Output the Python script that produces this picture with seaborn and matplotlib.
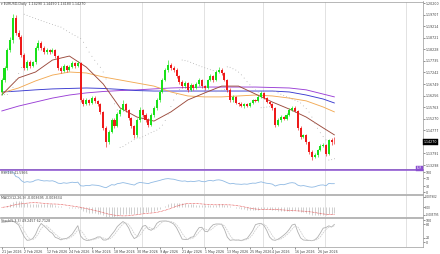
import numpy as np
import pandas as pd
import matplotlib
matplotlib.use("Agg")
import matplotlib.pyplot as plt
import matplotlib.transforms as mtrans
import seaborn as sns

# ---------------- data ----------------
opens = [1.1641, 1.1692, 1.1743, 1.1820, 1.1862, 1.1956, 1.1892, 1.1875, 1.1798, 1.1743,
         1.1769, 1.1752, 1.1769, 1.1828, 1.1850, 1.1828, 1.1811, 1.1820, 1.1811, 1.1820,
         1.1794, 1.1743, 1.1731, 1.1752, 1.1735, 1.1748, 1.1765, 1.1752, 1.1765, 1.1607,
         1.1590, 1.1607, 1.1594, 1.1615, 1.1603, 1.1590, 1.1556, 1.1488, 1.1428, 1.1471,
         1.1522, 1.1496, 1.1547, 1.1564, 1.1590, 1.1564, 1.1530, 1.1496, 1.1458, 1.1522,
         1.1564, 1.1543, 1.1522, 1.1501, 1.1543, 1.1573, 1.1607, 1.1641, 1.1692, 1.1735,
         1.1756, 1.1743, 1.1735, 1.1709, 1.1684, 1.1667, 1.1679, 1.1650, 1.1671, 1.1658,
         1.1675, 1.1692, 1.1667, 1.1658, 1.1692, 1.1709, 1.1692, 1.1726, 1.1735, 1.1722,
         1.1692, 1.1650, 1.1607, 1.1620, 1.1594, 1.1590, 1.1581, 1.1590, 1.1581, 1.1594,
         1.1607, 1.1603, 1.1620, 1.1637, 1.1615, 1.1598, 1.1590, 1.1573, 1.1501, 1.1522,
         1.1535, 1.1526, 1.1543, 1.1564, 1.1573, 1.1560, 1.1488, 1.1449, 1.1458, 1.1428,
         1.1386, 1.1364, 1.1373, 1.1394, 1.1411, 1.1415, 1.1377, 1.1438, 1.1429]
closes = [1.1692, 1.1743, 1.1820, 1.1862, 1.1956, 1.1892, 1.1875, 1.1798, 1.1743, 1.1769,
          1.1752, 1.1769, 1.1828, 1.1850, 1.1828, 1.1811, 1.1820, 1.1811, 1.1820, 1.1794,
          1.1743, 1.1731, 1.1752, 1.1735, 1.1748, 1.1765, 1.1752, 1.1765, 1.1607, 1.1590,
          1.1607, 1.1594, 1.1615, 1.1603, 1.1590, 1.1556, 1.1488, 1.1428, 1.1471, 1.1522,
          1.1496, 1.1547, 1.1564, 1.1590, 1.1564, 1.1530, 1.1496, 1.1458, 1.1522, 1.1564,
          1.1543, 1.1522, 1.1501, 1.1543, 1.1573, 1.1607, 1.1641, 1.1692, 1.1735, 1.1756,
          1.1743, 1.1735, 1.1709, 1.1684, 1.1667, 1.1679, 1.1650, 1.1671, 1.1658, 1.1675,
          1.1692, 1.1667, 1.1658, 1.1692, 1.1709, 1.1692, 1.1726, 1.1735, 1.1722, 1.1692,
          1.1650, 1.1607, 1.1620, 1.1594, 1.1590, 1.1581, 1.1590, 1.1581, 1.1594, 1.1607,
          1.1603, 1.1620, 1.1637, 1.1615, 1.1598, 1.1590, 1.1573, 1.1501, 1.1522, 1.1535,
          1.1526, 1.1543, 1.1564, 1.1573, 1.1560, 1.1488, 1.1449, 1.1458, 1.1428, 1.1386,
          1.1364, 1.1373, 1.1394, 1.1411, 1.1415, 1.1377, 1.1438, 1.1426, 1.1427]
highs = [1.1700, 1.1752, 1.1830, 1.1875, 1.1972, 1.1968, 1.1905, 1.1885, 1.1806, 1.1778,
         1.1776, 1.1775, 1.1836, 1.1862, 1.1858, 1.1835, 1.1828, 1.1826, 1.1830, 1.1826,
         1.1800, 1.1750, 1.1760, 1.1758, 1.1755, 1.1772, 1.1770, 1.1775, 1.1770, 1.1615,
         1.1616, 1.1612, 1.1624, 1.1622, 1.1608, 1.1596, 1.1562, 1.1495, 1.1478, 1.1530,
         1.1528, 1.1555, 1.1572, 1.1605, 1.1596, 1.1570, 1.1536, 1.1502, 1.1528, 1.1575,
         1.1570, 1.1550, 1.1528, 1.1550, 1.1580, 1.1615, 1.1648, 1.1700, 1.1745, 1.1777,
         1.1765, 1.1750, 1.1742, 1.1715, 1.1692, 1.1686, 1.1685, 1.1678, 1.1676, 1.1682,
         1.1700, 1.1698, 1.1672, 1.1698, 1.1716, 1.1715, 1.1734, 1.1748, 1.1742, 1.1728,
         1.1698, 1.1656, 1.1628, 1.1625, 1.1600, 1.1597, 1.1596, 1.1595, 1.1600, 1.1613,
         1.1612, 1.1626, 1.1645, 1.1642, 1.1620, 1.1604, 1.1596, 1.1578, 1.1528, 1.1542,
         1.1540, 1.1550, 1.1572, 1.1582, 1.1580, 1.1566, 1.1494, 1.1464, 1.1463, 1.1433,
         1.1392, 1.1380, 1.1400, 1.1418, 1.1422, 1.1420, 1.1442, 1.1445, 1.1449]
lows = [1.1630, 1.1685, 1.1735, 1.1810, 1.1850, 1.1885, 1.1865, 1.1790, 1.1735, 1.1736,
        1.1744, 1.1746, 1.1762, 1.1820, 1.1820, 1.1803, 1.1804, 1.1802, 1.1805, 1.1786,
        1.1736, 1.1722, 1.1725, 1.1728, 1.1729, 1.1742, 1.1745, 1.1746, 1.1598, 1.1582,
        1.1584, 1.1586, 1.1588, 1.1596, 1.1582, 1.1548, 1.1480, 1.1405, 1.1420, 1.1465,
        1.1488, 1.1490, 1.1540, 1.1558, 1.1556, 1.1522, 1.1488, 1.1445, 1.1450, 1.1515,
        1.1536, 1.1514, 1.1490, 1.1494, 1.1536, 1.1566, 1.1600, 1.1635, 1.1686, 1.1728,
        1.1736, 1.1728, 1.1700, 1.1675, 1.1660, 1.1660, 1.1642, 1.1645, 1.1650, 1.1652,
        1.1668, 1.1660, 1.1650, 1.1652, 1.1686, 1.1685, 1.1686, 1.1720, 1.1715, 1.1686,
        1.1642, 1.1598, 1.1600, 1.1588, 1.1582, 1.1575, 1.1574, 1.1575, 1.1577, 1.1588,
        1.1597, 1.1598, 1.1614, 1.1610, 1.1592, 1.1584, 1.1566, 1.1492, 1.1494, 1.1515,
        1.1520, 1.1520, 1.1538, 1.1558, 1.1554, 1.1480, 1.1440, 1.1443, 1.1420, 1.1378,
        1.1351, 1.1358, 1.1366, 1.1388, 1.1405, 1.1370, 1.1372, 1.1415, 1.1418]

# moving averages sampled at bar positions
ma_bars = [0, 6, 12, 18, 24, 30, 36, 42, 48, 54, 60, 66, 72, 78, 84, 90, 96, 102, 108, 114, 118]
ma_brown = [1.1628, 1.1701, 1.1726, 1.1777, 1.1794, 1.1747, 1.1675, 1.1573, 1.1534, 1.1517,
            1.1556, 1.1607, 1.1637, 1.1666, 1.1666, 1.1632, 1.1598, 1.1568, 1.1534, 1.1488, 1.1458]
ma_orange = [1.1637, 1.1658, 1.1688, 1.1713, 1.1726, 1.1722, 1.1705, 1.1692, 1.1679, 1.1666,
             1.1641, 1.1624, 1.1620, 1.1620, 1.1624, 1.1628, 1.1624, 1.1615, 1.1603, 1.1577, 1.1556]
ma_blue = [1.1641, 1.1645, 1.1650, 1.1654, 1.1656, 1.1658, 1.1656, 1.1652, 1.1647, 1.1645,
           1.1645, 1.1645, 1.1645, 1.1645, 1.1645, 1.1645, 1.1645, 1.1641, 1.1628, 1.1611, 1.1594]
ma_purple = [1.1560, 1.1581, 1.1598, 1.1615, 1.1628, 1.1637, 1.1643, 1.1647, 1.1650, 1.1654,
             1.1658, 1.1660, 1.1662, 1.1662, 1.1662, 1.1662, 1.1660, 1.1658, 1.1650, 1.1632, 1.1620]

price_ticks = [1.20200, 1.19707, 1.19214, 1.18721, 1.18228, 1.17735, 1.17242, 1.16749,
               1.16256, 1.15763, 1.15270, 1.14777, 1.14284, 1.13791, 1.13298]
price_tick_labels = ["1.20200", "1.19707", "1.19214", "1.18721", "1.18228", "1.17735",
                     "1.17242", "1.16749", "1.16256", "1.15763", "1.15270", "1.14777",
                     "", "1.13791", "1.13298"]
date_tick_bars = [0, 8, 16, 24, 32, 40, 48, 56, 64, 72, 80, 88, 96, 104, 112]
date_tick_labels = ["21 Jan 2026", "2 Feb 2026", "12 Feb 2026", "24 Feb 2026", "6 Mar 2026",
                    "18 Mar 2026", "30 Mar 2026", "9 Apr 2026", "21 Apr 2026", "1 May 2026",
                    "13 May 2026", "25 May 2026", "4 Jun 2026", "16 Jun 2026", "26 Jun 2026"]
month_sep_bars = [7.7, 27.7, 49.7, 71.7, 92.7, 114.7, 143.5]
header = "\u25be EURUSD,Daily  1.14290 1.14490 1.14180 1.14270"
line_tag = "EUR"

df = pd.DataFrame({"bar": np.arange(len(closes)), "open": opens, "high": highs,
                   "low": lows, "close": closes})

# ---------------- indicators ----------------
def psar(h, l, step=0.02, mx=0.2):
    n = len(h)
    out = np.zeros(n)
    up = True
    af = step
    ep = h[0]
    out[0] = l[0]
    for i in range(1, n):
        s = out[i - 1] + af * (ep - out[i - 1])
        if up:
            s = min(s, l[i - 1], l[max(i - 2, 0)])
            if l[i] < s:
                up, s, ep, af = False, ep, l[i], step
            elif h[i] > ep:
                ep, af = h[i], min(af + step, mx)
        else:
            s = max(s, h[i - 1], h[max(i - 2, 0)])
            if h[i] > s:
                up, s, ep, af = True, ep, h[i], step
            elif l[i] < ep:
                ep, af = l[i], min(af + step, mx)
        out[i] = s
    return out

df["sar"] = psar(df["high"].values, df["low"].values)
c = df["close"]
d = c.diff()
gain = d.clip(lower=0).ewm(alpha=1 / 14, adjust=True).mean()
loss = (-d.clip(upper=0)).ewm(alpha=1 / 14, adjust=True).mean()
df["rsi"] = 100 - 100 / (1 + gain / loss.replace(0, np.nan))
df["rsi"] = df["rsi"].fillna(100)
df.loc[0, "rsi"] = np.nan
df["macd"] = c.ewm(span=12, adjust=False).mean() - c.ewm(span=26, adjust=False).mean()
df["signal"] = df["macd"].rolling(9, min_periods=1).mean()
ll = df["low"].rolling(5, min_periods=1).min()
hh = df["high"].rolling(5, min_periods=1).max()
df["k"] = 100 * (c - ll).rolling(3, min_periods=1).sum() / (hh - ll).rolling(3, min_periods=1).sum()
df["dline"] = df["k"].rolling(3, min_periods=1).mean()

ma = pd.DataFrame({"bar": ma_bars, "brown": ma_brown, "orange": ma_orange,
                   "blue": ma_blue, "purple": ma_purple})

# ---------------- figure ----------------
sns.set_theme(style="white")
plt.rcParams["font.family"] = ["DejaVu Sans"]
W, H = 440, 254
fig = plt.figure(figsize=(W / 100, H / 100), dpi=100)
fig.patch.set_facecolor("white")

def rect(x0, y0, x1, y1):
    return [x0 / W, 1 - y1 / H, (x1 - x0) / W, (y1 - y0) / H]

XL = (-0.6, 149.4)
FS = 2.3
TXT = "#404040"
GRID = "#d6d6d6"
SPINE = "#9a9a9a"
PURPLE = "#8a4fd0"

ax = fig.add_axes(rect(0, 1.5, 423, 168.5))
axr = fig.add_axes(rect(0, 170, 423, 194))
axm = fig.add_axes(rect(0, 195, 423, 217))
axs = fig.add_axes(rect(0, 218, 423, 247))

for a in (ax, axr, axm, axs):
    a.set_xlim(*XL)
    a.set_facecolor("white")
    for sp in a.spines.values():
        sp.set_color(SPINE)
        sp.set_linewidth(0.5)
    a.spines["left"].set_visible(False)
    for xb in month_sep_bars:
        a.axvline(xb, color=GRID, lw=0.5, zorder=0)
    a.set_xlabel("")
    a.set_ylabel("")
    a.yaxis.tick_right()
    a.tick_params(axis="y", labelsize=FS, length=1.2, width=0.4, pad=0.8,
                  colors=TXT, labelcolor=TXT, right=True, left=False)
    a.tick_params(axis="x", bottom=False, labelbottom=False)

# ---- main price chart ----
ax.set_ylim(1.13150, 1.20264)
up = df["close"] >= df["open"]
col = np.where(up, "#19e019", "#ee1a1a")
ax.vlines(df["bar"], df["low"], df["high"], colors=col, lw=0.45, zorder=3)
body_lo = np.minimum(df["open"], df["close"])
body_h = np.maximum(np.abs(df["close"] - df["open"]), 0.00012)
ax.bar(df["bar"], body_h, bottom=body_lo, width=0.72, color=col, linewidth=0, zorder=4)

sns.lineplot(data=ma, x="bar", y="purple", ax=ax, color="#9a3fd6", lw=0.65, zorder=2)
sns.lineplot(data=ma, x="bar", y="blue", ax=ax, color="#3a3ad0", lw=0.65, zorder=2)
sns.lineplot(data=ma, x="bar", y="orange", ax=ax, color="#f2aa55", lw=0.65, zorder=2)
sns.lineplot(data=ma, x="bar", y="brown", ax=ax, color="#9b4a3c", lw=0.65, zorder=2)
sns.scatterplot(data=df, x="bar", y="sar", ax=ax, s=0.5, color="#b5b5b5",
                edgecolor="none", zorder=2)
ax.set_xlim(*XL)
ax.set_ylim(1.13150, 1.20264)
ax.set_xlabel("")
ax.set_ylabel("")
ax.set_yticks(price_ticks)
ax.set_yticklabels(price_tick_labels)
ax.text(0.003, 0.997, header, transform=ax.transAxes, fontsize=FS, color=TXT,
        ha="left", va="top")
bt = mtrans.blended_transform_factory(ax.transAxes, ax.transData)
ax.text(1.002, closes[-1], f"{closes[-1]:.5f}", transform=bt, fontsize=FS, color="white",
        ha="left", va="center", zorder=10,
        bbox=dict(boxstyle="square,pad=0.25", fc="black", ec="black", lw=0.3))

# ---- RSI ----
axr.set_ylim(-10, 110)
sns.lineplot(data=df, x="bar", y="rsi", ax=axr, color="#8fb9e3", lw=0.6)
axr.set_xlim(*XL)
axr.set_ylim(-10, 110)
axr.set_xlabel("")
axr.set_ylabel("")
axr.set_yticks([100, 70, 30, 0])
axr.set_yticklabels(["100", "70", "30", "0"])
axr.spines["top"].set_color(PURPLE)
axr.spines["top"].set_linewidth(1.1)
axr.text(0.998, 1.0, line_tag, transform=axr.transAxes, fontsize=1.8, color="white",
         ha="right", va="bottom", zorder=10,
         bbox=dict(boxstyle="square,pad=0.2", fc=PURPLE, ec=PURPLE, lw=0.3))
axr.text(0.003, 0.96, "RSI(14) 41.5966", transform=axr.transAxes, fontsize=FS,
         color=TXT, ha="left", va="top")

# ---- MACD ----
axm.set_ylim(-0.00732, 0.00942)
axm.vlines(df["bar"], 0, df["macd"], colors="#bdbdbd", lw=0.5)
sns.lineplot(data=df, x="bar", y="signal", ax=axm, color="#e03030", lw=0.5,
             linestyle=(0, (1, 1)))
axm.set_xlim(*XL)
axm.set_ylim(-0.00732, 0.00942)
axm.set_xlabel("")
axm.set_ylabel("")
axm.set_yticks([0.007902, 0.0, -0.005795])
axm.set_yticklabels(["0.007902", "0.00", "-0.005795"])
axm.tick_params(axis="y", labelsize=2.0, pad=0.5)
axm.text(0.003, 0.96, "MACD(12,26,9) -0.003695 -0.003634", transform=axm.transAxes,
         fontsize=FS, color=TXT, ha="left", va="top")

# ---- Stochastic ----
axs.set_ylim(-22.7, 109.1)
sns.lineplot(data=df, x="bar", y="k", ax=axs, color="#b0b0b0", lw=0.6)
sns.lineplot(data=df, x="bar", y="dline", ax=axs, color="#cfcfcf", lw=0.6,
             linestyle=(0, (2, 1)))
axs.set_xlim(*XL)
axs.set_ylim(-22.7, 109.1)
axs.set_xlabel("")
axs.set_ylabel("")
axs.set_yticks([100, 80, 20, 0])
axs.set_yticklabels(["100", "80", "20", "0"])
axs.text(0.003, 0.96, "Stoch(5,3,3) 49.2457 62.7128", transform=axs.transAxes,
         fontsize=FS, color=TXT, ha="left", va="top")
axs.set_xticks(date_tick_bars)
axs.set_xticklabels(date_tick_labels)
axs.tick_params(axis="x", bottom=True, labelbottom=True, labelsize=FS, length=1.2,
                width=0.4, pad=0.8, colors=TXT, labelcolor=TXT)
for lab in axs.get_xticklabels():
    lab.set_ha("left")

fig.savefig("out.png", dpi=100, facecolor="white")
